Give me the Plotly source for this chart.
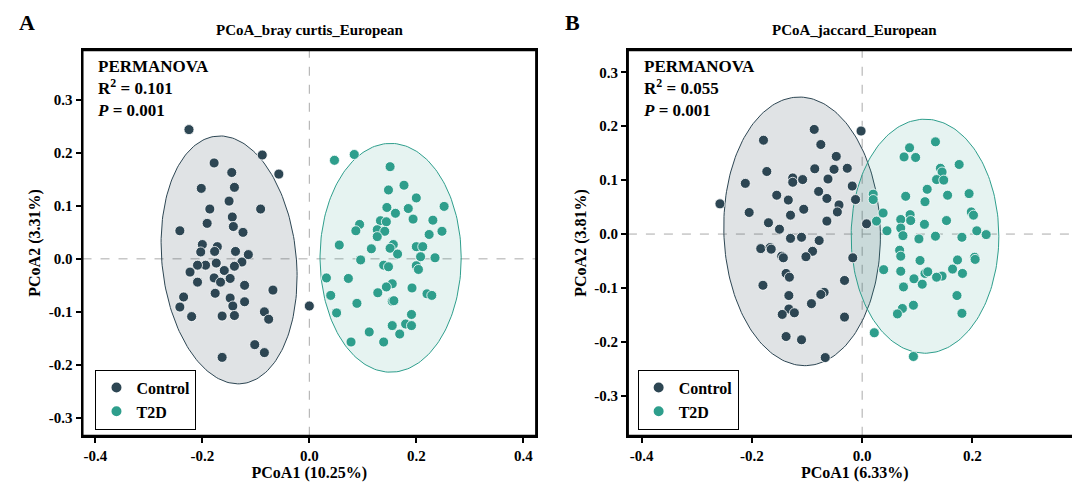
import numpy as np
import plotly.graph_objects as go

# panel A: bray curtis
a_ctrl_x = [-0.225, -0.088, -0.178, -0.057, -0.145, -0.202, -0.140, -0.150, -0.186, -0.091, -0.191, -0.144,
            -0.142, -0.124, -0.242, -0.200, -0.172, -0.177, -0.203, -0.138, -0.114, -0.126, -0.174, -0.194,
            -0.140, -0.159, -0.209, -0.223, -0.209, -0.178, -0.166, -0.148, -0.121, -0.068, -0.176, -0.235,
            -0.242, -0.148, -0.143, -0.121, -0.084, -0.076, -0.140, -0.163, -0.220, 0.000, -0.102, -0.084, -0.163]
a_ctrl_y = [0.244, 0.196, 0.181, 0.160, 0.163, 0.133, 0.135, 0.109, 0.094, 0.094, 0.067, 0.079,
            0.061, 0.050, 0.053, 0.027, 0.023, 0.014, 0.013, 0.014, 0.008, -0.006, -0.008, -0.012,
            -0.014, -0.022, -0.012, -0.025, -0.044, -0.036, -0.044, -0.037, -0.050, -0.059, -0.065, -0.072,
            -0.091, -0.074, -0.089, -0.081, -0.100, -0.114, -0.107, -0.108, -0.109, -0.089, -0.162, -0.177, -0.186]
a_t2d_x = [0.047, 0.084, 0.151, 0.177, 0.148, 0.200, 0.252, 0.145, 0.185, 0.161, 0.194, 0.231, 0.133, 0.094,
           0.144, 0.127, 0.141, 0.087, 0.248, 0.224, 0.127, 0.056, 0.116, 0.157, 0.151, 0.200, 0.212, 0.165,
           0.208, 0.235, 0.096, 0.139, 0.148, 0.200, 0.204, 0.032, 0.073, 0.155, 0.144, 0.192, 0.128, 0.040,
           0.220, 0.229, 0.155, 0.158, 0.089, 0.051, 0.191, 0.155, 0.180, 0.191, 0.169, 0.112, 0.078, 0.139]
a_t2d_y = [0.186, 0.197, 0.174, 0.139, 0.130, 0.115, 0.099, 0.097, 0.095, 0.086, 0.075, 0.073, 0.072, 0.065,
           0.070, 0.055, 0.052, 0.053, 0.052, 0.046, 0.042, 0.026, 0.019, 0.027, 0.020, 0.023, 0.023, 0.009,
           0.004, 0.002, -0.002, -0.012, -0.015, -0.013, -0.020, -0.036, -0.037, -0.047, -0.053, -0.055, -0.064, -0.069,
           -0.066, -0.069, -0.080, -0.079, -0.084, -0.102, -0.105, -0.126, -0.123, -0.126, -0.142, -0.138, -0.157, -0.157]

# panel B: jaccard
b_ctrl_x = [-0.258, -0.087, -0.002, -0.179, -0.075, -0.047, -0.173, -0.086, -0.051, -0.027, -0.212, -0.126,
            -0.126, -0.108, -0.062, -0.018, -0.155, -0.079, -0.134, -0.064, -0.012, -0.042, -0.045, -0.205,
            -0.106, -0.130, -0.064, 0.008, -0.170, -0.150, -0.130, -0.110, -0.078, -0.184, -0.167, -0.165,
            -0.146, -0.143, -0.090, -0.102, -0.017, -0.138, -0.132, -0.032, -0.180, -0.133, -0.069, -0.075,
            -0.092, -0.133, -0.123, -0.145, -0.032, -0.138, -0.110, -0.067]
b_ctrl_y = [0.056, 0.194, 0.191, 0.174, 0.166, 0.144, 0.116, 0.121, 0.120, 0.122, 0.094, 0.104,
            0.096, 0.101, 0.102, 0.089, 0.072, 0.079, 0.063, 0.066, 0.064, 0.054, 0.041, 0.040,
            0.046, 0.035, 0.024, 0.019, 0.021, 0.009, -0.008, -0.006, -0.012, -0.027, -0.025, -0.028,
            -0.041, -0.044, -0.032, -0.042, -0.044, -0.073, -0.080, -0.086, -0.095, -0.114, -0.108, -0.112,
            -0.129, -0.139, -0.146, -0.149, -0.154, -0.190, -0.196, -0.229]
b_t2d_x = [0.133, 0.086, 0.076, 0.097, 0.176, 0.142, 0.145, 0.135, 0.148, 0.118, 0.020, 0.020, 0.079, 0.155,
           0.194, 0.114, 0.038, 0.087, 0.198, 0.202, 0.026, 0.070, 0.088, 0.153, 0.113, 0.070, 0.045, 0.208,
           0.225, 0.074, 0.103, 0.133, 0.181, 0.068, 0.070, 0.105, 0.173, 0.204, 0.205, 0.039, 0.070, 0.114,
           0.119, 0.145, 0.135, 0.164, 0.182, 0.094, 0.109, 0.075, 0.172, 0.093, 0.073, 0.064, 0.181, 0.022, 0.093]
b_t2d_y = [0.171, 0.160, 0.143, 0.142, 0.129, 0.122, 0.115, 0.101, 0.100, 0.083, 0.074, 0.064, 0.070, 0.072,
           0.075, 0.060, 0.039, 0.036, 0.041, 0.035, 0.024, 0.027, 0.025, 0.025, 0.018, 0.011, 0.006, 0.006,
           -0.001, -0.003, -0.009, -0.004, -0.006, -0.030, -0.041, -0.049, -0.048, -0.043, -0.047, -0.066, -0.069, -0.073,
           -0.070, -0.078, -0.080, -0.065, -0.073, -0.083, -0.093, -0.098, -0.114, -0.132, -0.138, -0.148, -0.147, -0.183, -0.227]

# ellipses: centre x, centre y, half-width, half-height, shear
ell_a_ctrl = [-0.150, -0.002, 0.126, 0.234, -0.017]
ell_a_t2d = [0.152, 0.002, 0.132, 0.216, 0.0]
ell_b_ctrl = [-0.109, 0.005, 0.142, 0.249, -0.005]
ell_b_t2d = [0.114, -0.004, 0.134, 0.217, 0.0]

titles = ["PCoA_bray curtis_European", "PCoA_jaccard_European"]
xtitles = ["PCoA1 (10.25%)", "PCoA1 (6.33%)"]
ytitles = ["PCoA2 (3.31%)", "PCoA2 (3.81%)"]
r2 = ["0.101", "0.055"]
pval = ["0.001", "0.001"]
xticks = [-0.4, -0.2, 0, 0.2, 0.4]
yticks = [-0.3, -0.2, -0.1, 0, 0.1, 0.2, 0.3]

C_CTRL = "#2d4653"
C_T2D = "#2e9e8c"
FONT = "Liberation Serif"


def ellipse(p):
    t = np.linspace(0, 2 * np.pi, 200)
    cx, cy, rx, ry, k = p
    return cx + rx * np.cos(t) + k * np.sin(t), cy + ry * np.sin(t)


def lab(v):
    return "<b>%.1f</b>" % v


fig = go.Figure()
panels = [
    (a_ctrl_x, a_ctrl_y, a_t2d_x, a_t2d_y, ell_a_ctrl, ell_a_t2d),
    (b_ctrl_x, b_ctrl_y, b_t2d_x, b_t2d_y, ell_b_ctrl, ell_b_t2d),
]
for i, (cx, cy, tx, ty, ec, et) in enumerate(panels):
    xa = "x" if i == 0 else "x2"
    ya = "y" if i == 0 else "y2"
    lg = "legend" if i == 0 else "legend2"
    for e, col, fc in [(ec, C_CTRL, "rgba(45,70,83,0.15)"), (et, C_T2D, "rgba(46,158,140,0.12)")]:
        ex, ey = ellipse(e)
        fig.add_trace(go.Scatter(x=ex, y=ey, mode="lines", fill="toself", fillcolor=fc,
                                 line=dict(color=col, width=1), showlegend=False,
                                 hoverinfo="skip", xaxis=xa, yaxis=ya))
    for name, px, py, col in [("Control", cx, cy, C_CTRL), ("T2D", tx, ty, C_T2D)]:
        fig.add_trace(go.Scatter(x=px, y=py, mode="markers", name="<b>" + name + "</b>", legend=lg,
                                 marker=dict(color=col, size=10, line=dict(color="white", width=0.8)),
                                 xaxis=xa, yaxis=ya))

doms = [[0.069, 0.489], [0.574, 0.994]]
xr = [[-0.424, 0.424], [-0.425, 0.398]]
yr = [[-0.334, 0.394], [-0.374, 0.341]]
fig.update_layout(xaxis=dict(domain=doms[0], anchor="y"), yaxis=dict(domain=[0.127, 0.914], anchor="x"),
                  xaxis2=dict(domain=doms[1], anchor="y2"), yaxis2=dict(domain=[0.127, 0.914], anchor="x2"))
ax_common = dict(showline=True, linecolor="black", linewidth=2, mirror=True, ticks="outside",
                 ticklen=5, tickwidth=1.5, tickcolor="black", showgrid=False, zeroline=False,
                 tickfont=dict(size=15, family=FONT, color="black"))
for i in range(2):
    s = "" if i == 0 else "2"
    fig.update_xaxes(ax_common, range=xr[i], tickvals=xticks, ticktext=[lab(v) for v in xticks],
                     title=dict(text="<b>" + xtitles[i] + "</b>", standoff=4,
                                font=dict(size=16, family=FONT, color="black")),
                     selector=dict(anchor="y" + s))
    fig.update_yaxes(ax_common, range=yr[i], tickvals=yticks, ticktext=[lab(v) for v in yticks],
                     title=dict(text="<b>" + ytitles[i] + "</b>", standoff=4,
                                font=dict(size=16, family=FONT, color="black")),
                     selector=dict(anchor="x" + s))
    fig.add_shape(type="line", xref="x" + s, yref="y" + s + " domain", x0=0, x1=0, y0=0, y1=1,
                  line=dict(color="#aaaaaa", width=1, dash="dash"), layer="below")
    fig.add_shape(type="line", xref="x" + s + " domain", yref="y" + s, x0=0, x1=1, y0=0, y1=0,
                  line=dict(color="#aaaaaa", width=1, dash="dash"), layer="below")
    fig.add_shape(type="rect", xref="x" + s + " domain", yref="y" + s + " domain", x0=0, x1=1, y0=0, y1=1,
                  line=dict(color="black", width=2), layer="above")
    mid = (doms[i][0] + doms[i][1]) / 2
    fig.add_annotation(text="<b>" + titles[i] + "</b>", xref="paper", yref="paper", x=mid, y=0.935,
                       xanchor="center", yanchor="bottom", showarrow=False,
                       font=dict(size=15, family=FONT, color="black"))
    fig.add_annotation(text="<b>" + "AB"[i] + "</b>", xref="paper", yref="paper", x=[0.008, 0.514][i],
                       y=1.0, xanchor="left", yanchor="top", showarrow=False,
                       font=dict(size=22, family=FONT, color="black"))
    fig.add_annotation(text="<b>PERMANOVA<br>R<sup>2</sup> = " + r2[i] + "<br><i>P</i> = " + pval[i] + "</b>",
                       xref="paper", yref="paper", x=doms[i][0] + 0.012, y=0.905, xanchor="left",
                       yanchor="top", align="left", showarrow=False,
                       font=dict(size=17, family=FONT, color="black"))

leg = dict(bordercolor="black", borderwidth=1, bgcolor="white", yanchor="top", xanchor="left",
           font=dict(size=16, family=FONT, color="black"), tracegroupgap=0, itemsizing="constant")
fig.update_layout(
    width=1080, height=490, margin=dict(l=0, r=0, t=0, b=0),
    plot_bgcolor="white", paper_bgcolor="white",
    legend=dict(leg, x=0.081, y=0.262),
    legend2=dict(leg, x=0.583, y=0.262),
)
fig.write_html("out.html")
